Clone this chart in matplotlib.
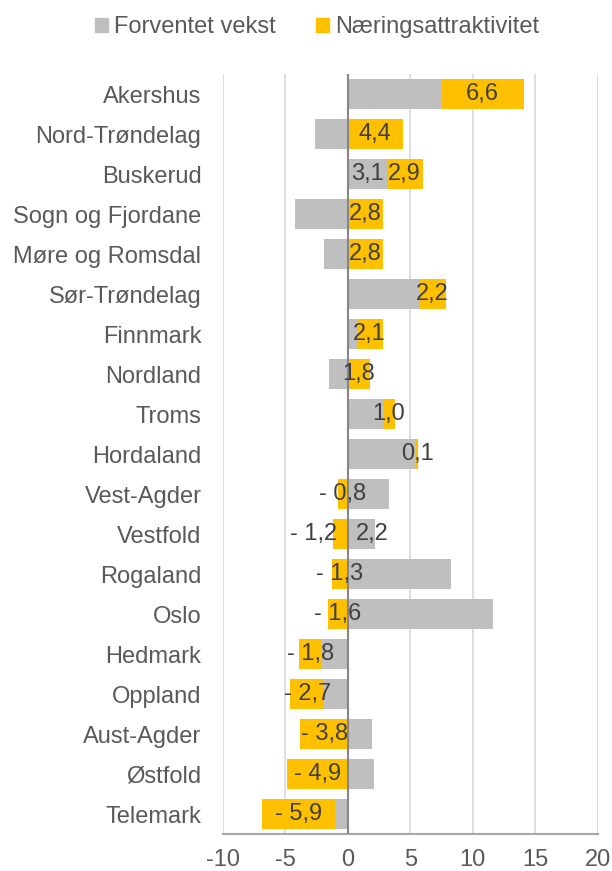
import matplotlib
matplotlib.use("Agg")
import matplotlib.pyplot as plt
from matplotlib.patches import Patch

plt.rcParams['font.family'] = ['Liberation Sans', 'DejaVu Sans']

categories = ["Akershus", "Nord-Trøndelag", "Buskerud", "Sogn og Fjordane", "Møre og Romsdal",
              "Sør-Trøndelag", "Finnmark", "Nordland", "Troms", "Hordaland", "Vest-Agder",
              "Vestfold", "Rogaland", "Oslo", "Hedmark", "Oppland", "Aust-Agder", "Østfold", "Telemark"]
forventet_vekst = [7.5, -2.6, 3.1, -4.2, -1.9, 5.7, 0.7, -1.5, 2.8, 5.5, 3.3,
                   2.2, 8.3, 11.6, -2.1, -1.9, 1.9, 2.1, -1.0]
naeringsattraktivitet = [6.6, 4.4, 2.9, 2.8, 2.8, 2.2, 2.1, 1.8, 1.0, 0.1, -0.8,
                         -1.2, -1.3, -1.6, -1.8, -2.7, -3.8, -4.9, -5.9]
gray_labels_for = ["Buskerud", "Vestfold"]
series_names = ["Forventet vekst", "Næringsattraktivitet"]
x_ticks = [-10, -5, 0, 5, 10, 15, 20]

GRAY = "#BFBFBF"
GOLD = "#FFC000"
TXT = "#595959"
LBL = "#404040"

def fmt(v):
    s = f"{abs(v):.1f}".replace(".", ",")
    return ("- " + s) if v < 0 else s

fig = plt.figure(figsize=(6.12, 8.71), dpi=100)
ax = fig.add_axes([223 / 612, 1 - 834 / 871, 374.5 / 612, 760 / 871])

y = list(range(len(categories)))
h = 0.77
ax.barh(y, forventet_vekst, height=h, color=GRAY, zorder=2)
gold_left = []
for g, n in zip(forventet_vekst, naeringsattraktivitet):
    if n >= 0:
        gold_left.append(max(g, 0))
    else:
        gold_left.append(min(g, 0))
ax.barh(y, naeringsattraktivitet, left=gold_left, height=h, color=GOLD, zorder=2)

fs = 17
# labels
for i, (cat, g, n, gl) in enumerate(zip(categories, forventet_vekst, naeringsattraktivitet, gold_left)):
    off_gold = -27 if cat == "Vestfold" else 0
    ax.annotate(fmt(n), (gl + n / 2, i), xytext=(off_gold, 0), textcoords="offset pixels",
                ha="center", va="center", fontsize=fs, color=LBL, zorder=4)
    if cat in gray_labels_for:
        off_gray = 11 if cat == "Vestfold" else 0
        ax.annotate(fmt(g), (g / 2, i), xytext=(off_gray, 0), textcoords="offset pixels",
                    ha="center", va="center", fontsize=fs, color=LBL, zorder=4)

ax.set_xlim(-10, 20)
ax.set_ylim(len(categories) - 0.5, -0.5)
ax.set_xticks(x_ticks)
ax.set_xticklabels([str(t) for t in x_ticks])
ax.set_yticks(y)
ax.set_yticklabels(categories)
ax.tick_params(axis="both", length=0, labelsize=fs, colors=TXT)
ax.tick_params(axis="y", pad=15.5)
ax.tick_params(axis="x", pad=11)

for t in x_ticks:
    if t != 0:
        ax.axvline(t, color="#D9D9D9", lw=1.2, zorder=1)
ax.axvline(0, color="#868686", lw=1.5, zorder=3)

for s in ["top", "right", "left"]:
    ax.spines[s].set_visible(False)
ax.spines["bottom"].set_color("#A6A6A6")
ax.spines["bottom"].set_linewidth(1.5)

handles = [Patch(color=GRAY, label=series_names[0]), Patch(color=GOLD, label=series_names[1])]
fig.legend(handles=handles, loc="center", bbox_to_anchor=(317 / 612, 1 - 27 / 871), ncol=2,
           frameon=False, fontsize=fs, handlelength=0.55, handleheight=0.55, handletextpad=0.25,
           columnspacing=1.7, labelcolor=TXT)

fig.savefig("out.png", dpi=100)
